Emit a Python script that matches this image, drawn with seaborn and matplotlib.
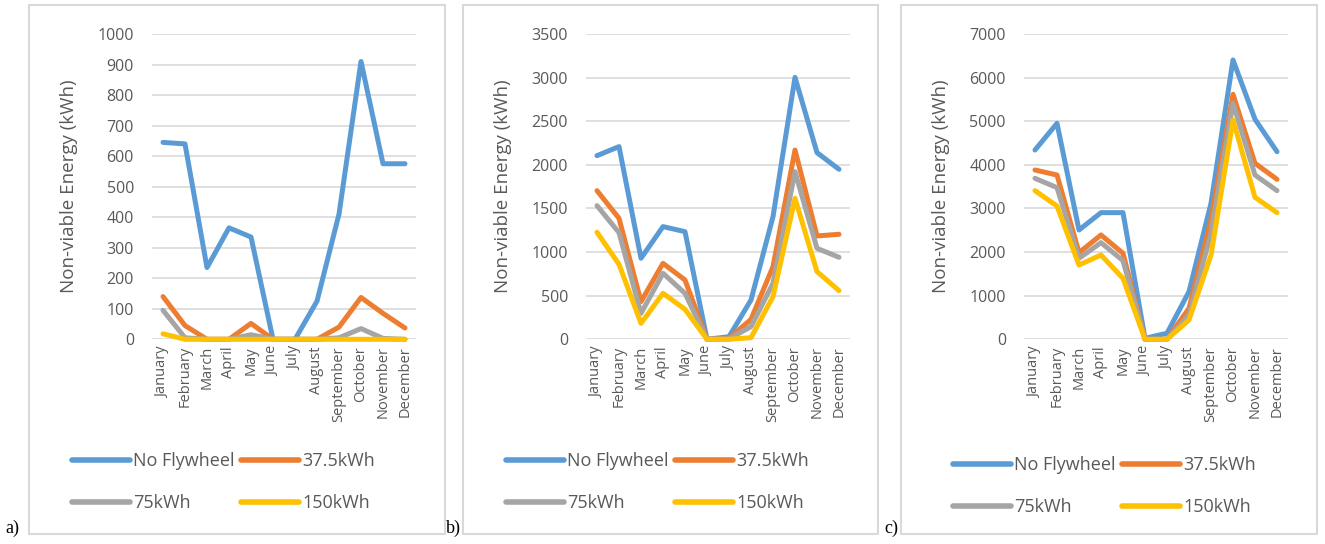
import numpy as np
import matplotlib
matplotlib.use("Agg")
import matplotlib.pyplot as plt
import seaborn as sns
from matplotlib.patches import Rectangle

months = ["January", "February", "March", "April", "May", "June", "July",
          "August", "September", "October", "November", "December"]
series_names = ["No Flywheel", "37.5kWh", "75kWh", "150kWh"]

# panel a
a_none = [645, 640, 235, 365, 335, 0, 0, 125, 410, 910, 575, 575]
a_375 = [140, 45, 0, 0, 52, 0, 0, 0, 40, 137, 85, 37]
a_75 = [95, 5, 0, 0, 15, 0, 0, 0, 5, 35, 3, 0]
a_150 = [18, 0, 0, 0, 0, 0, 0, 0, 0, 0, 0, 0]

# panel b
b_none = [2105, 2209, 929, 1292, 1234, 0, 30, 451, 1406, 3003, 2140, 1949]
b_375 = [1704, 1387, 432, 871, 680, 0, 10, 229, 833, 2170, 1185, 1204]
b_75 = [1532, 1223, 298, 757, 527, 0, 5, 145, 642, 1922, 1043, 940]
b_150 = [1227, 860, 183, 527, 344, 0, 0, 19, 489, 1616, 776, 558]

# panel c
c_none = [4340, 4952, 2506, 2904, 2904, 23, 138, 1093, 3118, 6404, 5044, 4302]
c_375 = [3882, 3767, 1987, 2392, 1972, 0, 0, 711, 2736, 5617, 4035, 3668]
c_75 = [3691, 3477, 1857, 2216, 1803, 0, 0, 558, 2430, 5410, 3767, 3408]
c_150 = [3408, 3057, 1704, 1933, 1398, 0, 0, 443, 1933, 5028, 3255, 2904]

y_max = [1000, 3500, 7000]
y_step = [100, 500, 1000]
panel_letters = ["a)", "b)", "c)"]

colors = ["#5B9BD5", "#ED7D31", "#A5A5A5", "#FFC000"]
text_col = "#595959"

sns.set_theme(style="white")
plt.rcParams["font.family"] = ["Open Sans", "DejaVu Sans"]

W, H = 1325, 544
fig = plt.figure(figsize=(W / 100, H / 100), dpi=100)

panels = [
    [a_none, a_375, a_75, a_150],
    [b_none, b_375, b_75, b_150],
    [c_none, c_375, c_75, c_150],
]
# pixel layout: axes left, box left, box right, legend x, legend y, letter x
ax_left = [152, 586, 1024]
box_left = [29, 463, 901]
box_right = [445, 878, 1317]
leg_x = [72, 506, 953]
leg_y = [452, 452, 456]
letter_x = [5, 446, 884]

x = np.arange(len(months))
for i, data in enumerate(panels):
    fig.patches.append(Rectangle((box_left[i] / W, 1 - 534 / H),
                                 (box_right[i] - box_left[i]) / W, 529 / H,
                                 transform=fig.transFigure, fill=False,
                                 edgecolor="#D9D9D9", lw=1.5, zorder=0))
    ax = fig.add_axes([ax_left[i] / W, 1 - 339.3 / H, 264 / W, 305.3 / H])
    ax.set_facecolor("none")
    for vals, name, col in zip(data, series_names, colors):
        sns.lineplot(x=x, y=vals, ax=ax, color=col, lw=3.6, label=name,
                     clip_on=False, solid_joinstyle="round",
                     solid_capstyle="round")
    ax.set_xlim(-0.5, 11.5)
    ax.set_ylim(0, y_max[i])
    ax.set_yticks(np.arange(0, y_max[i] + 1, y_step[i]))
    ax.set_xticks(x)
    ax.set_xticklabels(months, rotation=90)
    ax.grid(axis="y", color="#D9D9D9", lw=1.2)
    ax.set_axisbelow(True)
    for s in ax.spines.values():
        s.set_visible(False)
    ax.tick_params(axis="both", length=0, labelcolor=text_col)
    ax.tick_params(axis="y", labelsize=11.5, pad=13)
    ax.tick_params(axis="x", labelsize=10.5, pad=5)
    ax.set_ylabel("Non-viable Energy (kWh)", fontsize=13.5, color=text_col)
    ax.yaxis.set_label_coords(-0.28, 0.5)

    handles, labels = ax.get_legend_handles_labels()
    order = [0, 2, 1, 3]
    leg = ax.legend([handles[k] for k in order], [labels[k] for k in order],
                    ncol=2, loc="upper left",
                    bbox_to_anchor=(leg_x[i] / W, 1 - leg_y[i] / H),
                    bbox_transform=fig.transFigure, frameon=False,
                    fontsize=13, handlelength=3.2, handletextpad=0.2,
                    columnspacing=0.35, labelspacing=1.35,
                    borderpad=0, borderaxespad=0)
    for t in leg.get_texts():
        t.set_color(text_col)
    for h in leg.get_lines():
        h.set_linewidth(4)

    fig.text(letter_x[i] / W, 1 - 528 / H, panel_letters[i], va="center",
             ha="left", fontsize=13, family="Liberation Serif", color="black")

fig.savefig("out.png", dpi=100)
